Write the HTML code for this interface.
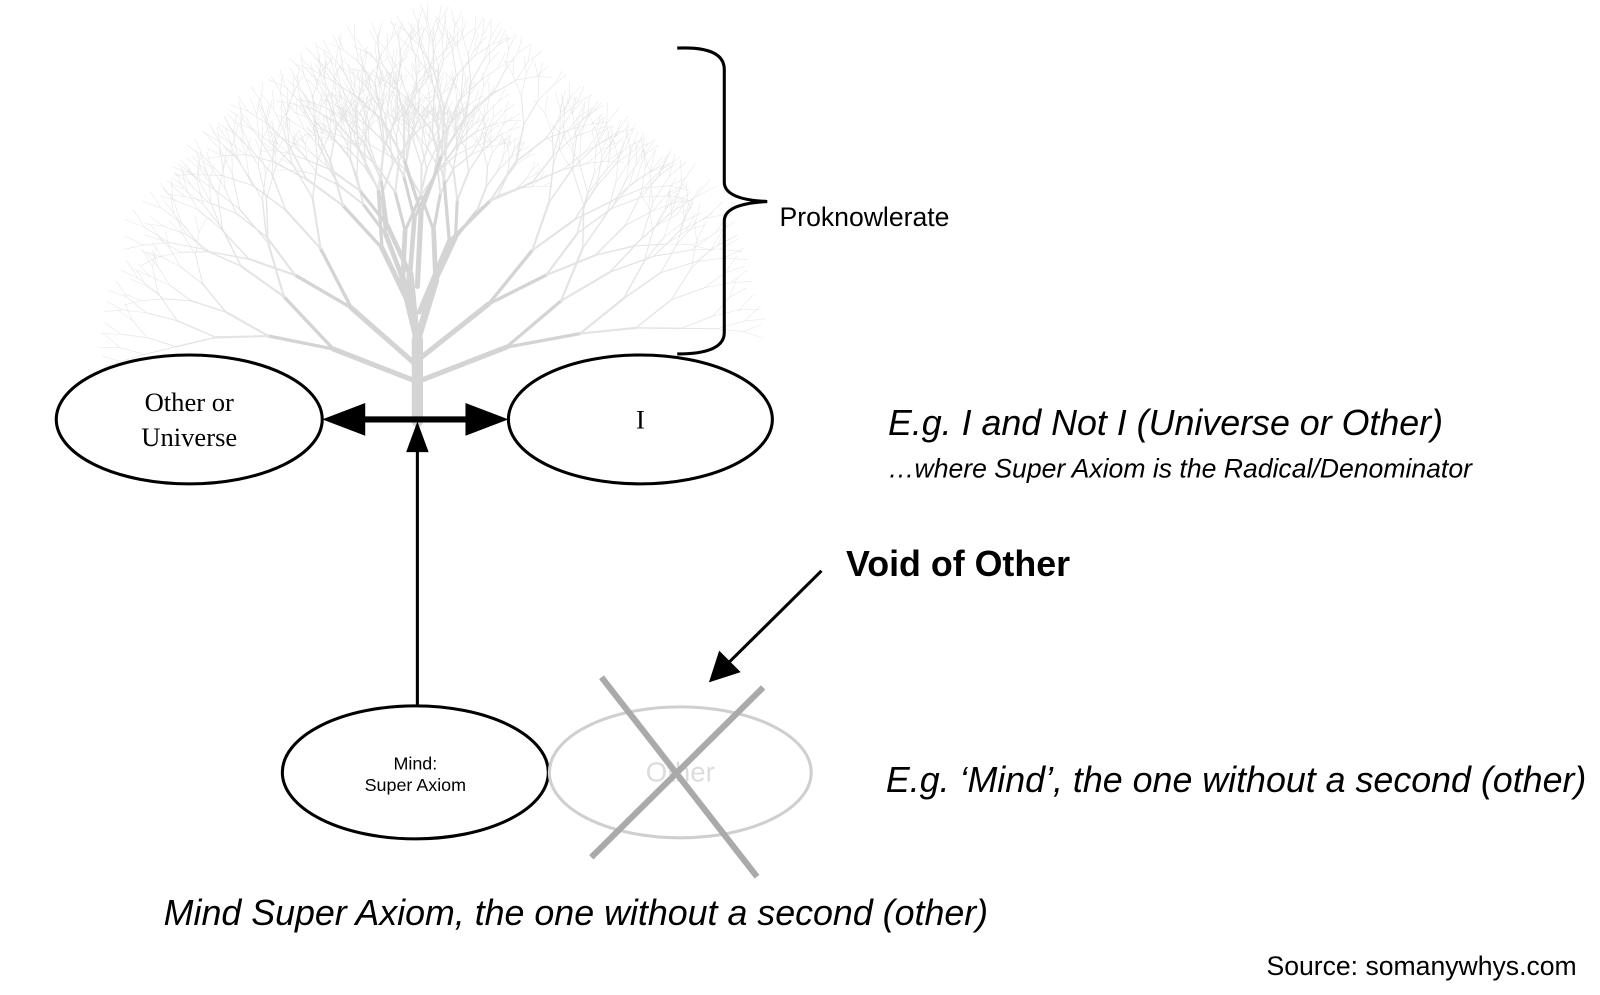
<!DOCTYPE html>
<html><head><meta charset="utf-8"><style>
html,body{margin:0;padding:0;background:#fff;width:1600px;height:995px;overflow:hidden}
svg{position:absolute;left:0;top:0}
text{font-family:"Liberation Sans",sans-serif}
.serif{font-family:"Liberation Serif",serif}
</style></head><body>
<svg width="1600" height="995" viewBox="0 0 1600 995" xmlns="http://www.w3.org/2000/svg">
<g transform="scale(1.023)">
<g id="tree" stroke-linecap="round" fill="none"></g>
<path d="M662,47 Q708,45 708,68 L708,178 Q708,195 750,197 Q708,199 708,216 L708,325 Q708,346 662,346" fill="none" stroke="#000" stroke-width="3"/>
<text x="762" y="221" font-size="26">Proknowlerate</text>
<ellipse cx="185" cy="410" rx="130" ry="63" fill="none" stroke="#000" stroke-width="3"/>
<text x="185" y="402" font-size="26" text-anchor="middle" class="serif">Other or</text>
<text x="185" y="436" font-size="26" text-anchor="middle" class="serif">Universe</text>
<ellipse cx="626" cy="410" rx="129" ry="63" fill="none" stroke="#000" stroke-width="3"/>
<text x="626" y="419" font-size="26" text-anchor="middle" class="serif">I</text>
<line x1="350" y1="410" x2="462" y2="410" stroke="#000" stroke-width="6"/>
<polygon points="315,410 357,394 357,426" fill="#000"/>
<polygon points="497,410 455,394 455,426" fill="#000"/>
<line x1="408" y1="690" x2="408" y2="438" stroke="#000" stroke-width="3"/>
<polygon points="408,412 397,442 419,442" fill="#000"/>
<ellipse cx="406" cy="755" rx="130" ry="65" fill="#fff" stroke="#000" stroke-width="3"/>
<text x="406" y="752" font-size="17.5" text-anchor="middle">Mind:</text>
<text x="406" y="773" font-size="17.5" text-anchor="middle">Super Axiom</text>
<ellipse cx="665" cy="755" rx="128" ry="64" fill="none" stroke="#cfcfcf" stroke-width="3"/>
<text x="665" y="764" font-size="27" text-anchor="middle" fill="#dcdcdc">Other</text>
<line x1="588" y1="662" x2="740" y2="857" stroke="#aaa" stroke-width="6"/>
<line x1="746" y1="672" x2="578" y2="838" stroke="#aaa" stroke-width="6"/>
<line x1="803" y1="558" x2="710" y2="650" stroke="#000" stroke-width="3"/>
<polygon points="693,667 703,636 724,657" fill="#000"/>
<text x="827" y="563" font-size="35" font-weight="bold">Void of Other</text>
<text x="868" y="425" font-size="35" font-style="italic">E.g. I and Not I (Universe or Other)</text>
<text x="868" y="467" font-size="26" font-style="italic">…where Super Axiom is the Radical/Denominator</text>
<text x="866" y="774" font-size="35" font-style="italic">E.g. ‘Mind’, the one without a second (other)</text>
<text x="160" y="904" font-size="35" font-style="italic">Mind Super Axiom, the one without a second (other)</text>
<text x="1238" y="953" font-size="26">Source: somanywhys.com</text>
</g>
</svg>
<script>
(function(){
var g=document.getElementById('tree');var seed=11;
function r(){seed=(seed*16807)%2147483647;return (seed-1)/2147483646;}
var out=[];
function br(x,y,a,len,w,d){
 var x2=x+Math.cos(a)*len,y2=y+Math.sin(a)*len;
 out.push('<line x1="'+x.toFixed(1)+'" y1="'+y.toFixed(1)+'" x2="'+x2.toFixed(1)+'" y2="'+y2.toFixed(1)+'" stroke-width="'+w.toFixed(2)+'" stroke="'+(d<4?'#d4d4d4':'#e4e4e4')+'"/>');
 if(d>=8||len<4)return;
 for(var i=0;i<2;i++){
  var na=a+(i-0.5)*(0.5+r()*0.35)+(r()-0.5)*0.25;
  na=na*0.9+(-Math.PI/2)*0.1;
  br(x2,y2,na,len*(0.73+r()*0.1),Math.max(w*0.65,0.5),d+1);
 }
}
br(408,412,-Math.PI/2,80,11,0);
br(408,340,-Math.PI/2-0.1,72,7,1);
br(405,372,-Math.PI/2-1.2,85,5,2);
br(411,372,-Math.PI/2+1.2,90,5,2);
br(405,355,-Math.PI/2-0.85,82,5,2);
br(411,350,-Math.PI/2+0.9,85,5,2);
br(406,310,-Math.PI/2-0.45,75,5,2);
br(410,305,-Math.PI/2+0.4,75,5,2);
br(408,280,-Math.PI/2+0.05,72,5,2);
g.innerHTML=out.join('');
})();
</script>
</body></html>
